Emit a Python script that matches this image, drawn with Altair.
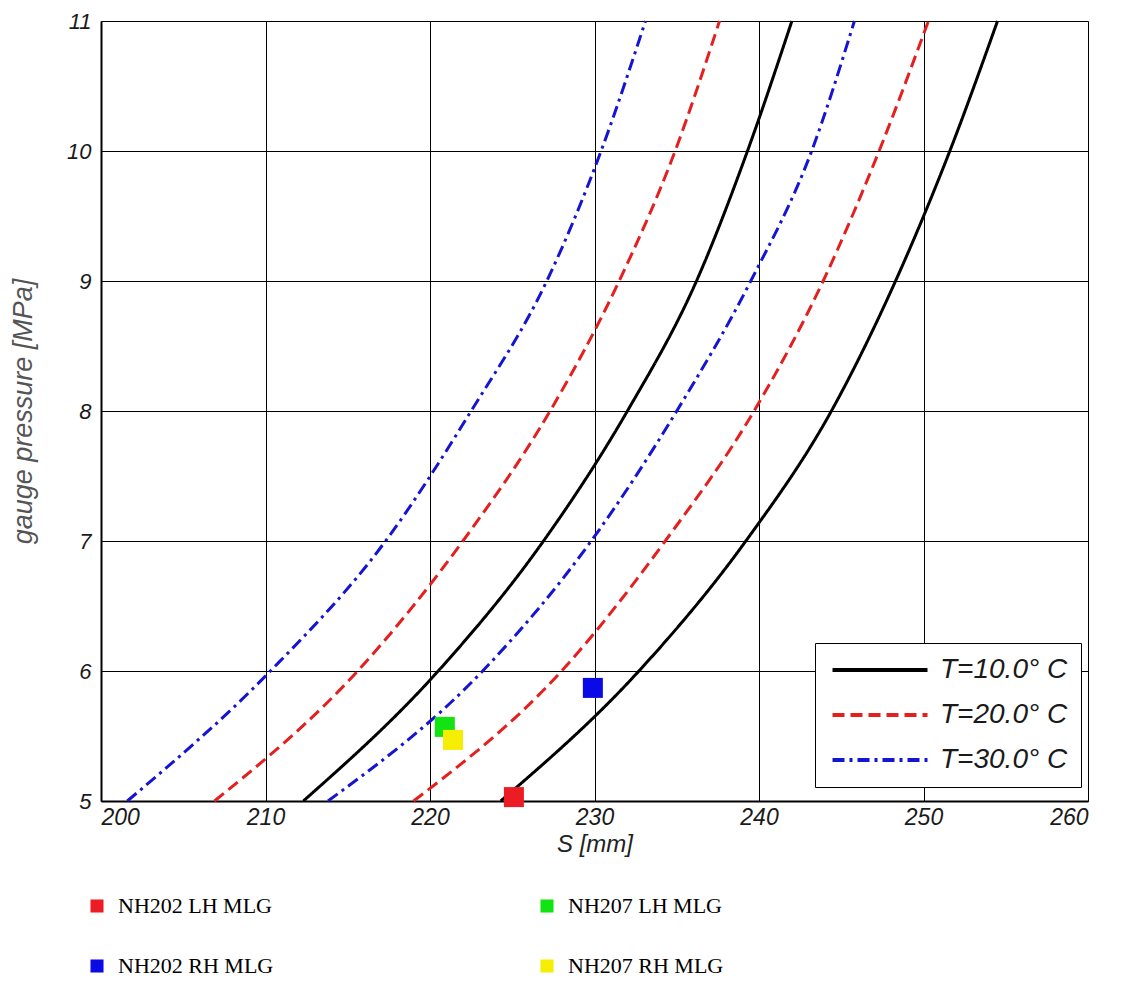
import altair as alt
import pandas as pd

# pressure levels [MPa]
P = [5, 6, 7, 8, 9, 10, 11]

# curves S [mm] at each pressure level (two branches per temperature)
black_a = [212.3, 220.5, 226.9, 232.0, 236.2, 239.3, 242.0]
black_b = [224.3, 232.7, 239.2, 244.4, 248.3, 251.6, 254.5]
red_a = [206.9, 215.6, 222.0, 227.3, 231.5, 234.9, 237.6]
red_b = [219.0, 228.0, 234.3, 239.7, 243.9, 247.3, 250.3]
blue_a = [201.6, 210.3, 217.3, 222.5, 227.1, 230.4, 233.1]
blue_b = [213.8, 223.2, 229.8, 235.0, 239.5, 243.2, 245.8]

temps = ["T=10.0° C", "T=20.0° C", "T=30.0° C"]
temp_colors = ["#000000", "#e3201f", "#1414d2"]
temp_dashes = [[1, 0], [12, 6], [12, 5, 3, 5]]

# measured points
meas_labels = ["NH202 LH MLG", "NH202 RH MLG", "NH207 LH MLG", "NH207 RH MLG"]
meas_S = [225.1, 229.9, 220.9, 221.4]
meas_P = [5.03, 5.87, 5.57, 5.47]
meas_colors = ["#ec1c24", "#0a0ae6", "#12e312", "#f5ee00"]

rows = []
for name, temp, vals in [
    ("ka", temps[0], black_a), ("kb", temps[0], black_b),
    ("ra", temps[1], red_a), ("rb", temps[1], red_b),
    ("ba", temps[2], blue_a), ("bb", temps[2], blue_b),
]:
    for p, s in zip(P, vals):
        rows.append({"curve": name, "T": temp, "S": s, "P": p})
curves = pd.DataFrame(rows)
pts = pd.DataFrame({"label": meas_labels, "S": meas_S, "P": meas_P})

xscale = alt.Scale(domain=[200, 260], nice=False, zero=False)
yscale = alt.Scale(domain=[5, 11], nice=False, zero=False)

xaxis = alt.Axis(values=[200, 210, 220, 230, 240, 250, 260], title="S [mm]", format="d",
                 labelFontSize=23, labelFontStyle="italic", labelFont="Liberation Sans",
                 labelColor="#1a1a1a", titleFontSize=24, titleFontStyle="italic",
                 titleFont="Liberation Sans", titleFontWeight="normal", titleColor="#222222",
                 labelPadding=5, titlePadding=3, tickSize=0, grid=True, gridColor="#000000",
                 gridWidth=1, gridOpacity=1, domainColor="#000000", domainWidth=2)
yaxis = alt.Axis(values=[5, 6, 7, 8, 9, 10, 11], title="gauge pressure [MPa]", format="d",
                 labelFontSize=22, labelFontStyle="italic", labelFont="Liberation Sans",
                 labelColor="#1a1a1a", titleFontSize=27, titleFontStyle="italic",
                 titleFont="Liberation Sans", titleFontWeight="normal", titleColor="#555555",
                 labelPadding=10, titleX=-78, titleY=390, titleAngle=270,
                 titleAlign="center", titleBaseline="middle",
                 tickSize=0, grid=True, gridColor="#000000",
                 gridWidth=1, gridOpacity=1, domainColor="#000000", domainWidth=2)

lines = alt.Chart(curves).mark_line(strokeWidth=3, interpolate="monotone").encode(
    x=alt.X("S:Q", scale=xscale, axis=xaxis),
    y=alt.Y("P:Q", scale=yscale, axis=yaxis),
    detail="curve:N",
    order=alt.Order("P:Q"),
    stroke=alt.Stroke("T:N", scale=alt.Scale(domain=temps, range=temp_colors),
                      legend=alt.Legend(title=None, orient="none", legendX=714, legendY=622,
                                        fillColor="white", strokeColor="#000000",
                                        padding=13, rowPadding=17, labelOffset=84,
                                        symbolType="M-1,0H9", symbolSize=361,
                                        symbolStrokeWidth=4,
                                        labelFont="Liberation Sans", labelFontStyle="italic",
                                        labelFontSize=28, labelColor="#1a1a1a")),
    strokeDash=alt.StrokeDash("T:N", scale=alt.Scale(domain=temps, range=temp_dashes),
                              legend=alt.Legend(title=None, orient="none", legendX=714,
                                                legendY=622)),
)

points = alt.Chart(pts).mark_square(size=400, opacity=1).encode(
    x=alt.X("S:Q", scale=xscale),
    y=alt.Y("P:Q", scale=yscale),
    fill=alt.Fill("label:N", scale=alt.Scale(domain=meas_labels, range=meas_colors),
                  legend=alt.Legend(title=None, orient="none", legendX=-15, legendY=874,
                                    columns=2, columnPadding=262, rowPadding=38,
                                    symbolType="square", symbolSize=170, labelOffset=10,
                                    labelFont="Liberation Serif", labelFontSize=22,
                                    labelColor="#000000", labelLimit=400)),
)

chart = alt.layer(lines, points).properties(
    width=987, height=780,
    autosize=alt.AutoSizeParams(type="none"),
    padding={"left": 93, "top": 13, "right": 20, "bottom": 184},
).configure_view(stroke="#000000", strokeWidth=2).configure(background="white")

chart.save("out.html", embed_options={"renderer": "svg", "actions": False})
